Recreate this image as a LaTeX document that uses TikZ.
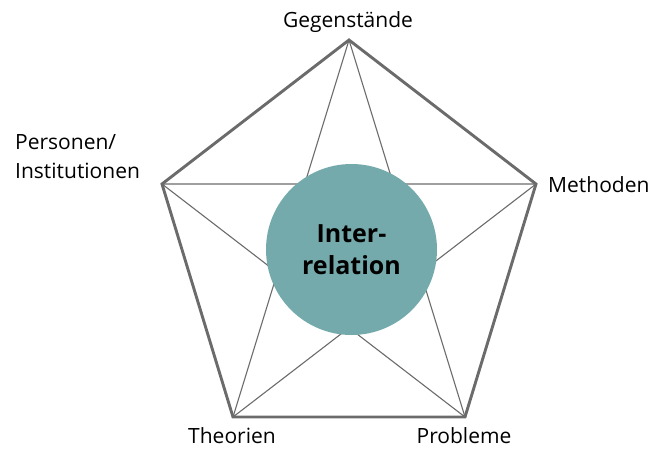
\documentclass[tikz,border=0pt]{standalone}
\usepackage{fontspec}
\setmainfont{Open Sans}
\definecolor{edgegray}{HTML}{6B6B6B}
\definecolor{teal}{HTML}{74AAAB}
\begin{document}
\begin{tikzpicture}[x=1pt,y=1pt,
  rim/.style={draw=edgegray,line width=2.9pt,line join=miter},
  chord/.style={draw=edgegray,line width=1.1pt},
  corner/.style={font=\fontsize{21}{29}\selectfont,text=black,inner sep=0pt},
  hub/.style={circle,fill=teal,minimum size=171pt,inner sep=0pt,
    font=\fontsize{25}{32}\selectfont\bfseries,align=center}]
\useasboundingbox (0,0) rectangle (653,448);
% pentagon corners
\coordinate (T) at (349,408);
\coordinate (R) at (536,264);
\coordinate (BR) at (465,31);
\coordinate (BL) at (233,31);
\coordinate (L) at (162,264);
% star of diagonals
\draw[chord] (T) -- (BL) (T) -- (BR) (L) -- (R) (L) -- (BR) (R) -- (BL);
% outline
\draw[rim] (T) -- (R) -- (BR) -- (BL) -- (L) -- cycle;
% centre disc
\node[hub] (hubnode) at (351.5,198.5) {Inter-\\relation};
% corner labels
\node[corner,anchor=base] (gegen) at (348,420) {Gegenstände};
\node[corner,anchor=base west] (meth) at (548,256) {Methoden};
\node[corner,anchor=base west,align=left] (pers) at (15,270) {Personen/\\Institutionen};
\node[corner,anchor=base] (theo) at (232,5) {Theorien};
\node[corner,anchor=base] (prob) at (464,5) {Probleme};
\end{tikzpicture}
\end{document}
